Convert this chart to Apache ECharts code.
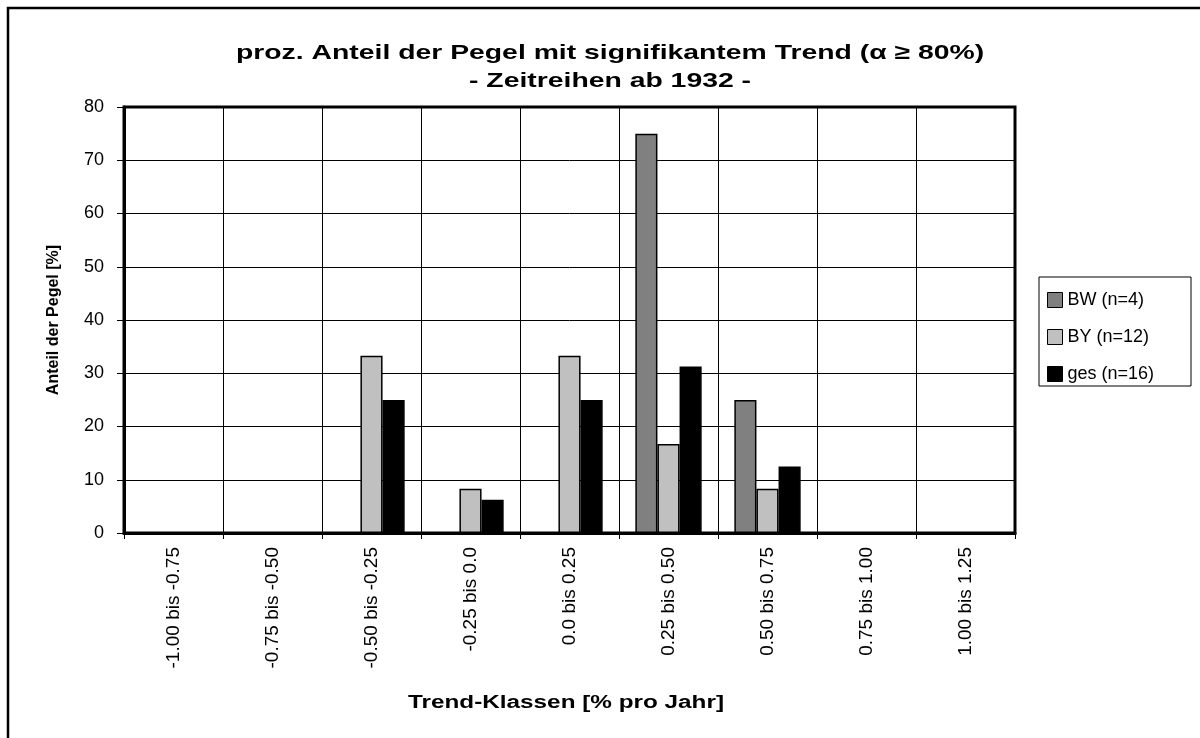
<!DOCTYPE html>
<html>
<head>
<meta charset="utf-8">
<title>Trend-Klassen</title>
<script src="https://cdn.jsdelivr.net/npm/echarts@6/dist/echarts.min.js"></script>
<style>
  html, body { margin: 0; padding: 0; background: #fff; }
  #main { width: 1200px; height: 738px; }
</style>
</head>
<body>
<div id="main"></div>
<script>
// Trend-Klassen und Anteile je Gruppe
var categories = ['-1.00 bis -0.75', '-0.75 bis -0.50', '-0.50 bis -0.25', '-0.25 bis 0.0',
  '0.0 bis 0.25', '0.25 bis 0.50', '0.50 bis 0.75', '0.75 bis 1.00', '1.00 bis 1.25'];
var seriesNames = ['BW (n=4)', 'BY (n=12)', 'ges (n=16)'];
var bwValues = [0, 0, 0, 0, 0, 75, 25, 0, 0];
var byValues = [0, 0, 33.3, 8.3, 33.3, 16.7, 8.3, 0, 0];
var gesValues = [0, 0, 25, 6.25, 25, 31.25, 12.5, 0, 0];
var colors = ['#808080', '#c0c0c0', '#000000'];

var font = 'Liberation Sans, Arial, sans-serif';
var myChart = echarts.init(document.getElementById('main'));

function bar(name, data, color) {
    return {
        name: name,
        type: 'bar',
        data: data,
        barGap: '0%',
        barCategoryGap: '33%',
        itemStyle: { color: color, borderColor: '#000', borderWidth: 1.5 }
    };
}

// Text mit breiter Laufweite (wie im Excel-Original) ueber scaleX
function wideText(text, x, y, size, sx) {
    return {
        type: 'text',
        x: x,
        y: y,
        scaleX: sx,
        silent: true,
        style: {
            text: text,
            fill: '#000',
            font: 'bold ' + size + 'px ' + font,
            textAlign: 'center',
            textVerticalAlign: 'middle'
        }
    };
}

myChart.setOption({
    backgroundColor: '#fff',
    animation: false,
    textStyle: { fontFamily: font, color: '#000' },
    legend: {
        orient: 'vertical',
        left: 1047,
        top: 291,
        padding: 0,
        data: seriesNames,
        icon: 'rect',
        itemWidth: 15,
        itemHeight: 15,
        itemGap: 19,
        textStyle: { fontFamily: font, fontSize: 18, color: '#000', lineHeight: 16 },
        itemStyle: { borderColor: '#000', borderWidth: 1 }
    },
    grid: {
        left: 124,
        right: 185,
        top: 107,
        bottom: 205,
        show: true,
        borderColor: '#000',
        borderWidth: 3,
        backgroundColor: '#fff'
    },
    xAxis: {
        type: 'category',
        data: categories,
        axisLine: { lineStyle: { color: '#000', width: 3 } },
        axisTick: { show: true, length: 6, lineStyle: { color: '#000', width: 1 } },
        axisLabel: { rotate: 90, interval: 0, margin: 14, fontSize: 19, color: '#000', fontFamily: font },
        splitLine: { show: true, interval: 0, lineStyle: { color: '#000', width: 1 } }
    },
    yAxis: {
        type: 'value',
        min: 0,
        max: 80,
        interval: 10,
        name: 'Anteil der Pegel [%]',
        nameLocation: 'middle',
        nameGap: 62,
        nameTextStyle: { fontFamily: font, fontSize: 16, fontWeight: 'bold', color: '#000' },
        axisLine: { show: true, lineStyle: { color: '#000', width: 3 } },
        axisTick: { show: true, length: 7, lineStyle: { color: '#000', width: 1 } },
        axisLabel: { fontSize: 18, color: '#000', margin: 20, fontFamily: font },
        splitLine: { show: true, lineStyle: { color: '#000', width: 1 } }
    },
    graphic: [
        {
            type: 'rect',
            silent: true,
            z: -10,
            shape: { x: 8, y: 8, width: 1400, height: 1000 },
            style: { fill: 'none', stroke: '#000', lineWidth: 2.5 }
        },
        {
            type: 'rect',
            silent: true,
            shape: { x: 1039, y: 277, width: 152, height: 109 },
            style: { fill: 'none', stroke: '#000', lineWidth: 1 }
        },
        wideText('proz. Anteil der Pegel mit signifikantem Trend (α ≥ 80%)', 610, 53, 21, 1.35),
        wideText('- Zeitreihen ab 1932 -', 610, 81, 21, 1.35),
        wideText('Trend-Klassen [% pro Jahr]', 566, 703, 18, 1.35)
    ],
    series: [
        bar(seriesNames[0], bwValues, colors[0]),
        bar(seriesNames[1], byValues, colors[1]),
        bar(seriesNames[2], gesValues, colors[2])
    ]
});
</script>
</body>
</html>
